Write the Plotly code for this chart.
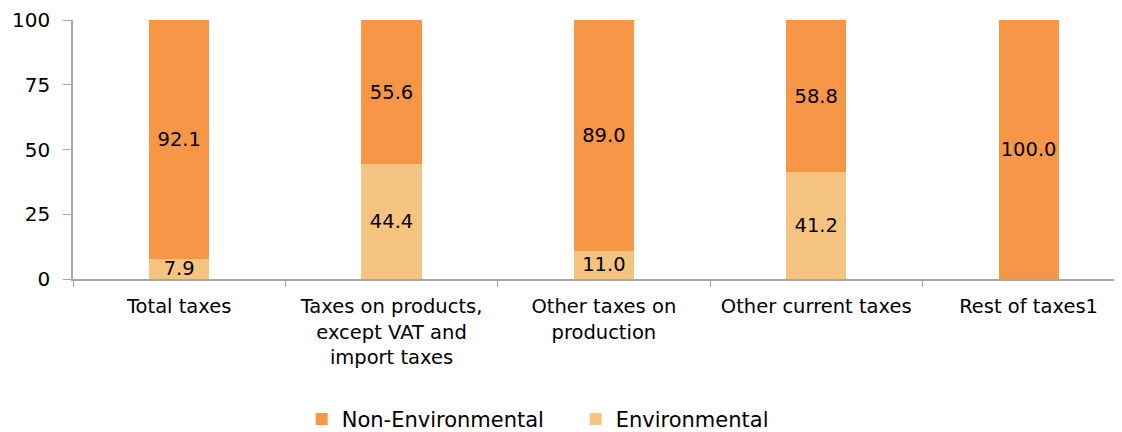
import plotly.graph_objects as go

categories = ["Total taxes", "Taxes on products,<br>except VAT and<br>import taxes",
              "Other taxes on<br>production", "Other current taxes", "Rest of taxes1"]
environmental = [7.9, 44.4, 11.0, 41.2, 0.0]
non_environmental = [92.1, 55.6, 89.0, 58.8, 100.0]
env_labels = ["7.9", "44.4", "11.0", "41.2", ""]
nonenv_labels = ["92.1", "55.6", "89.0", "58.8", "100.0"]
y_ticks = [0, 25, 50, 75, 100]

FONT = "DejaVu Sans"

fig = go.Figure()
fig.add_trace(go.Bar(
    x=categories, y=environmental, name="Environmental",
    marker=dict(color="#F5C481", line=dict(width=0)),
    text=env_labels, textposition="inside", insidetextanchor="middle",
    constraintext="none", cliponaxis=False, textangle=0,
    textfont=dict(family=FONT, size=19.5, color="#000000"),
    width=0.283,
))
fig.add_trace(go.Bar(
    x=categories, y=non_environmental, name="Non-Environmental",
    marker=dict(color="#F79646", line=dict(width=0)),
    text=nonenv_labels, textposition="inside", insidetextanchor="middle",
    constraintext="none", cliponaxis=False, textangle=0,
    textfont=dict(family=FONT, size=19.5, color="#000000"),
    width=0.283,
))

fig.update_layout(
    barmode="stack",
    width=1114, height=424,
    margin=dict(l=65, r=0, t=12, b=153, autoexpand=False),
    plot_bgcolor="white", paper_bgcolor="white",
    font=dict(family=FONT, size=18, color="#000000"),
    showlegend=True,
    legend=dict(
        orientation="h", x=0.218, xanchor="left", y=-0.542, yanchor="middle",
        traceorder="reversed", font=dict(family=FONT, size=21, color="#000000"),
        entrywidth=229, itemsizing="constant",
    ),
    xaxis=dict(
        range=[-0.5, 4.44], showline=True, linecolor="#A6A6A6", linewidth=1.5,
        ticks="outside", ticklen=6, tickcolor="#A6A6A6", tickson="boundaries",
        showgrid=False, tickfont=dict(family=FONT, size=19.5), ticklabelstandoff=9,
        fixedrange=True, automargin=False,
    ),
    yaxis=dict(
        range=[0, 100], tickvals=y_ticks, showline=True, linecolor="#A6A6A6", linewidth=1.5,
        ticks="outside", ticklen=8, tickcolor="#A6A6A6", showgrid=False, zeroline=False,
        tickfont=dict(family=FONT, size=20), ticklabelstandoff=9, automargin=False,
    ),
)

fig.write_html("out.html")
